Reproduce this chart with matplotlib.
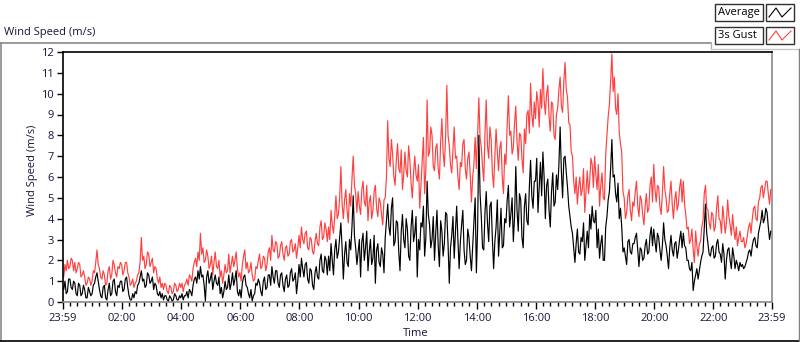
import matplotlib
matplotlib.use("Agg")
import matplotlib.pyplot as plt
from matplotlib.lines import Line2D
from matplotlib.patches import Rectangle
from matplotlib.ticker import FixedLocator

plt.rcParams['font.family'] = ['Open Sans', 'DejaVu Sans']

# ---- data: 2.5-minute samples, starting 23:59 of the previous day (minute -1) ----
gust_by_hour = [
    [1.4,1.2,1.8,1.5,2.0,1.6,1.7,2.1,2.0,1.5,1.9,1.4,1.6,1.9,1.8,1.2,1.3,1.5,1.2,0.8,0.9,1.2,1.1,0.8],
    [1.0,1.5,1.4,1.9,2.5,1.8,1.6,1.2,1.1,1.5,1.3,0.8,0.9,1.5,1.7,1.1,1.3,2.0,1.8,1.4,1.2,1.7,1.6,1.9],
    [1.8,1.3,1.5,1.9,1.9,1.4,1.2,0.8,0.9,1.1,0.7,0.9,1.0,1.3,1.4,1.9,3.1,2.0,2.2,1.6,1.8,2.4,2.3,1.7],
    [1.9,2.1,1.4,1.7,1.6,1.1,0.9,1.2,0.7,0.9,0.6,0.9,0.8,0.5,0.4,0.8,0.7,0.4,0.5,0.9,0.8,0.5,0.6,0.9],
    [0.7,0.9,0.5,0.8,0.9,1.1,0.8,1.3,1.2,1.0,1.6,1.9,2.1,1.7,2.4,2.0,3.3,2.3,2.6,1.9,2.0,2.5,2.2,1.6],
    [1.8,2.2,1.3,1.9,2.4,1.7,1.6,2.0,1.2,1.5,0.9,1.3,1.8,1.4,1.5,2.3,1.4,1.8,2.2,1.7,2.0,2.4,1.6,1.2],
    [1.4,1.0,1.8,2.2,2.5,1.6,1.9,1.4,1.5,1.9,1.3,1.0,1.1,1.7,1.6,2.0,2.3,1.6,1.7,2.2,2.1,1.5,1.8,2.4],
    [2.6,2.0,3.2,2.5,2.4,2.9,2.8,2.1,2.2,2.7,2.9,2.3,2.0,2.6,2.7,2.2,2.3,2.9,3.0,2.4,2.5,2.8,2.1,2.6],
    [3.2,2.6,3.6,3.0,2.8,3.3,3.4,2.6,2.5,3.1,3.0,2.4,2.3,2.9,3.3,2.8,2.7,3.6,3.9,3.0,3.1,3.8,3.5,2.9],
    [3.6,3.0,4.4,3.7,3.3,4.1,5.1,4.0,4.2,5.0,6.5,4.7,4.0,4.9,5.4,4.4,3.8,5.2,4.6,5.9,7.0,5.6,5.2,4.3],
    [5.3,4.6,4.2,5.4,5.8,4.8,4.6,5.6,3.9,4.8,5.1,4.0,4.4,5.3,5.6,4.5,4.1,5.0,4.8,4.2,3.7,4.9,5.0,6.0],
    [8.7,6.9,6.5,7.8,7.1,6.0,5.6,6.8,7.6,6.4,6.2,7.3,5.4,6.1,7.2,6.3,6.0,7.5,6.8,5.7,5.0,6.2,7.0,6.1],
    [5.8,6.6,4.5,5.6,6.8,7.9,5.2,6.4,9.7,7.0,7.2,8.4,8.0,6.5,6.3,7.4,7.6,6.4,5.9,7.7,8.8,7.2,6.5,7.9],
    [10.4,8.0,7.5,6.6,6.2,7.3,8.4,6.9,7.0,6.0,5.4,6.7,6.5,7.6,7.8,6.4,5.9,6.9,7.2,6.1,4.8,6.0,6.6,7.9],
    [6.4,8.0,9.8,7.9,7.4,6.5,5.8,8.1,9.7,7.5,6.9,8.4,7.8,6.2,5.5,7.0,8.3,7.2,6.3,7.4,7.7,6.0,5.2,7.1],
    [6.6,8.5,9.9,8.0,8.2,7.1,7.4,8.6,9.4,7.7,6.8,8.1,8.0,6.9,6.2,8.3,7.6,9.0,9.2,8.1,10.5,9.0,8.4,9.6],
    [8.8,10.1,9.6,8.4,10.2,9.3,11.2,9.7,9.0,10.0,10.4,8.9,8.2,9.6,9.5,8.0,7.8,9.0,9.3,10.2,10.8,9.4,9.1,10.6],
    [11.5,10.2,9.8,8.6,8.5,7.2,7.0,5.8,5.2,6.0,4.7,5.5,6.0,5.1,5.4,6.4,4.3,5.3,6.3,5.2,5.8,6.9,6.6,5.5],
    [7.0,6.1,5.4,6.6,4.6,5.6,6.2,5.0,4.9,7.1,8.0,8.9,9.5,10.6,11.9,10.1,10.8,9.3,9.0,10.0,8.1,7.6,7.2,5.3],
    [5.0,4.0,4.3,5.1,5.4,4.4,3.9,4.8,4.6,5.3,5.8,4.6,4.1,5.1,4.9,4.2,3.7,4.6,5.2,4.3,4.5,5.6,6.0,4.8],
    [6.6,5.4,4.8,5.6,5.5,4.6,4.2,5.2,6.5,5.4,5.0,4.3,4.4,5.2,5.8,4.7,4.0,4.9,5.3,4.4,4.7,5.5,5.9,4.8],
    [5.8,4.7,4.2,3.5,3.6,2.8,3.0,3.5,2.5,1.9,3.4,2.7,2.2,2.8,2.9,3.6,3.9,5.2,5.6,4.5,4.4,3.8,3.5,4.3],
    [4.2,3.4,3.6,4.5,5.1,4.0,3.9,3.3,4.6,4.0,3.3,3.8,4.9,4.1,3.7,3.2,4.2,3.5,3.0,3.6,2.7,3.1,3.4,2.9],
    [2.9,3.1,2.6,2.8,3.2,3.6,3.8,3.3,4.0,4.5,4.6,4.0,3.9,4.8,5.0,5.5,5.6,5.0,5.4,5.8,5.8,5.2,4.7,5.4],
]
avg_by_hour = [
    [0.8,0.6,1.0,0.4,0.5,1.1,1.1,0.7,0.6,1.0,0.9,0.4,0.3,0.9,0.8,0.3,0.4,0.8,0.6,0.2,0.2,0.7,0.5,0.3],
    [0.4,0.8,0.9,1.2,1.4,1.0,0.6,0.3,0.2,0.7,0.8,0.2,0.1,0.6,0.9,0.3,0.4,1.0,1.1,0.5,0.3,0.8,0.7,1.0],
    [1.0,0.5,0.6,1.1,1.2,0.7,0.3,0.1,0.1,0.4,0.2,0.5,0.4,0.8,0.9,1.2,1.5,1.0,1.1,0.7,0.8,1.4,1.3,0.9],
    [1.0,1.2,0.6,0.9,0.8,0.4,0.3,0.5,0.2,0.4,0.1,0.3,0.3,0.1,0.05,0.3,0.2,0.05,0.1,0.4,0.3,0.1,0.1,0.3],
    [0.2,0.4,0.1,0.3,0.3,0.5,0.2,0.6,0.5,0.3,0.8,1.1,1.2,0.9,1.5,1.1,1.7,1.2,1.3,0.8,0.05,1.2,1.5,0.9],
    [1.1,1.4,0.6,1.0,1.3,0.9,0.8,1.2,0.4,0.7,0.2,0.5,1.0,0.6,0.7,1.3,0.6,0.9,1.4,0.8,1.1,1.5,0.5,0.3],
    [0.6,0.2,0.9,1.2,1.3,0.8,0.7,0.4,0.2,0.6,0.05,0.3,0.4,0.9,0.8,1.1,0.9,0.5,0.3,1.0,1.2,0.6,0.7,1.3],
    [1.3,0.8,1.7,1.2,0.9,1.5,1.5,0.9,0.7,1.3,1.4,0.8,0.5,1.1,1.3,0.7,0.8,1.4,1.6,1.0,1.1,1.4,0.4,1.0],
    [1.8,1.2,2.1,1.6,1.2,1.8,1.9,1.1,0.9,1.6,1.5,0.8,0.6,1.4,1.7,1.2,1.1,2.0,2.3,1.5,1.4,2.2,2.0,1.3],
    [2.2,1.5,2.8,2.0,1.3,2.5,3.0,2.1,2.4,3.1,3.8,2.6,1.1,2.3,2.9,1.9,1.7,3.0,2.5,3.6,5.1,3.2,2.6,1.8],
    [2.4,3.0,1.2,2.9,3.3,2.0,2.6,3.4,1.5,2.4,3.0,1.8,2.1,3.2,0.9,2.5,2.8,1.9,1.7,2.6,2.3,1.4,3.1,3.9],
    [4.7,3.6,3.2,4.5,5.0,2.7,2.9,3.9,3.8,2.4,1.5,3.4,4.2,3.0,2.6,4.0,3.5,2.2,2.0,3.6,4.4,2.9,3.3,4.1],
    [1.2,3.0,2.5,3.8,3.6,4.6,2.2,3.1,5.8,4.2,3.7,2.6,3.0,4.1,2.0,3.3,4.4,2.7,1.7,3.9,3.4,2.2,2.8,4.3],
    [4.2,2.8,0.9,2.6,3.2,4.1,2.1,3.3,4.6,3.0,1.6,2.9,3.7,4.4,2.5,1.8,2.0,3.5,3.1,2.2,1.5,2.7,4.0,5.0],
    [1.4,3.5,8.0,5.2,4.1,2.6,2.5,4.3,5.3,3.8,2.9,4.6,4.8,3.0,1.6,2.9,3.6,4.9,2.2,3.4,4.5,2.6,2.7,4.0],
    [3.8,4.9,5.6,3.6,4.2,5.0,2.9,4.1,6.5,4.4,3.4,5.2,4.9,3.1,2.6,4.6,5.2,3.9,3.7,5.5,6.8,5.1,4.5,5.8],
    [5.8,6.9,4.3,5.5,6.7,5.1,7.2,6.0,4.0,5.6,5.9,4.4,3.6,5.3,6.2,4.6,4.8,6.1,5.4,6.6,8.4,6.3,5.0,6.9],
    [7.0,6.2,5.5,4.6,4.1,3.6,3.3,2.6,1.9,2.8,3.5,2.4,2.3,3.1,2.9,3.8,2.0,2.7,3.4,2.6,4.2,3.5,4.6,3.9],
    [3.8,4.4,2.6,3.5,2.1,2.8,3.2,2.0,2.0,3.6,4.1,4.9,5.3,6.4,7.8,6.0,6.1,5.2,4.8,5.7,4.0,4.5,3.6,2.4],
    [2.6,2.2,1.8,2.9,3.0,2.4,2.3,2.8,2.8,3.1,3.3,2.5,1.7,2.6,2.5,2.0,2.1,2.7,3.0,2.3,2.4,3.2,3.6,2.7],
    [3.5,2.9,2.4,3.3,3.1,2.5,2.0,2.7,3.8,3.0,2.7,2.2,1.6,2.6,3.2,2.5,2.2,2.8,2.9,2.1,2.5,3.0,3.4,2.6],
    [3.3,2.7,2.6,2.0,2.0,1.6,1.5,1.9,0.55,1.0,1.3,1.6,1.1,1.5,1.9,2.2,2.4,3.6,4.7,3.3,2.8,2.3,2.2,2.6],
    [2.7,2.1,2.2,2.8,3.0,2.4,2.3,1.9,2.8,2.3,1.1,2.0,2.5,2.6,2.0,1.6,2.6,2.2,1.6,2.0,1.8,1.5,1.9,1.7],
    [1.8,1.6,1.7,1.9,2.1,2.4,2.5,2.2,2.7,3.0,3.1,2.7,2.6,3.3,3.6,3.9,4.4,3.8,4.0,4.5,4.3,3.6,3.0,3.4],
]
gust = [v for row in gust_by_hour for v in row]
average = [v for row in avg_by_hour for v in row]
minutes = [-1 + 2.5 * i for i in range(len(gust))]

tick_minutes = [-1, 120, 240, 360, 480, 600, 720, 840, 960, 1080, 1200, 1320, 1439]
tick_labels = ["23:59", "02:00", "04:00", "06:00", "08:00", "10:00", "12:00",
               "14:00", "16:00", "18:00", "20:00", "22:00", "23:59"]
y_ticks = list(range(0, 13))

W, H = 800, 342
fig = plt.figure(figsize=(W / 100, H / 100), dpi=100)
fig.patch.set_facecolor('white')

def fx(x):
    return x / W

def fy(y):
    return 1 - y / H

FS = 8
ax_l, ax_r, ax_t, ax_b = 62.5, 772, 52, 302
ax = fig.add_axes([fx(ax_l), fy(ax_b), (ax_r - ax_l) / W, (ax_b - ax_t) / H])
ax.plot(minutes, gust, color='#ff4040', lw=0.85, zorder=2)
ax.plot(minutes, average, color='black', lw=0.85, zorder=3)
ax.set_xlim(-1, 1439)
ax.set_ylim(0, 12)

txtc = '#16163a'
ax.set_yticks(y_ticks)
ax.set_yticklabels([str(v) for v in y_ticks], fontsize=FS, color=txtc)
ax.xaxis.set_major_locator(FixedLocator(tick_minutes))
ax.set_xticklabels(tick_labels, fontsize=FS, color=txtc)
ax.xaxis.set_minor_locator(FixedLocator([m for m in range(14, 1439, 15) if (m + 1) % 120 != 0]))
ax.tick_params(axis='y', length=4, width=1, direction='out', pad=2, color='black')
ax.tick_params(axis='x', which='major', length=5, width=1, direction='out', pad=3, color='black')
ax.tick_params(axis='x', which='minor', length=3, width=1, direction='out', color='black')
for s in ['top', 'left']:
    ax.spines[s].set_color('black')
    ax.spines[s].set_linewidth(1.2)
for s in ['bottom', 'right']:
    ax.spines[s].set_color('#8a8a8a')
    ax.spines[s].set_linewidth(1.2)

fig.text(fx(32), fy(170), "Wind Speed (m/s)", rotation=90, fontsize=FS, color=txtc,
         ha='center', va='center')
fig.text(fx(416), fy(334), "Time", fontsize=FS, color=txtc, ha='center', va='center')
fig.text(fx(4), fy(32), "Wind Speed (m/s)", fontsize=FS, color=txtc, ha='left', va='center')

# panel frame
def line(x0, y0, x1, y1, c, lw=1.0):
    fig.add_artist(Line2D([fx(x0), fx(x1)], [fy(y0), fy(y1)], color=c, lw=lw,
                          transform=fig.transFigure))

line(0, 42.5, 711, 42.5, '#8a8a8a', 1.2)
line(0.8, 42.5, 0.8, 341, '#8a8a8a', 1.2)
line(0, 340.5, 800, 340.5, 'black', 1.2)
line(711, 42.5, 711, 49, '#b0b0b0', 1.0)
line(711, 49, 800, 49, '#c8c8c8', 1.0)
line(798.5, 49, 798.5, 341, '#808080', 1.0)

# legend
legend_rows = [("Average", 'black', 4), ("3s Gust", '#ff4040', 27)]
for label, col, top in legend_rows:
    fig.add_artist(Rectangle((fx(715), fy(top + 17)), 48 / W, 17 / H, transform=fig.transFigure,
                             facecolor='white', edgecolor='#303030', lw=1.0))
    fig.text(fx(718), fy(top + 8.5), label, fontsize=FS, color='black', ha='left', va='center')
    fig.add_artist(Rectangle((fx(766), fy(top + 17)), 28 / W, 17 / H, transform=fig.transFigure,
                             facecolor='white', edgecolor='#303030', lw=1.0))
    zx = [769, 776, 782, 791]
    zy = [top + 13, top + 4, top + 13, top + 4]
    fig.add_artist(Line2D([fx(v) for v in zx], [fy(v) for v in zy], color=col, lw=0.8,
                          transform=fig.transFigure))

fig.savefig("out.png", dpi=100, facecolor='white')
